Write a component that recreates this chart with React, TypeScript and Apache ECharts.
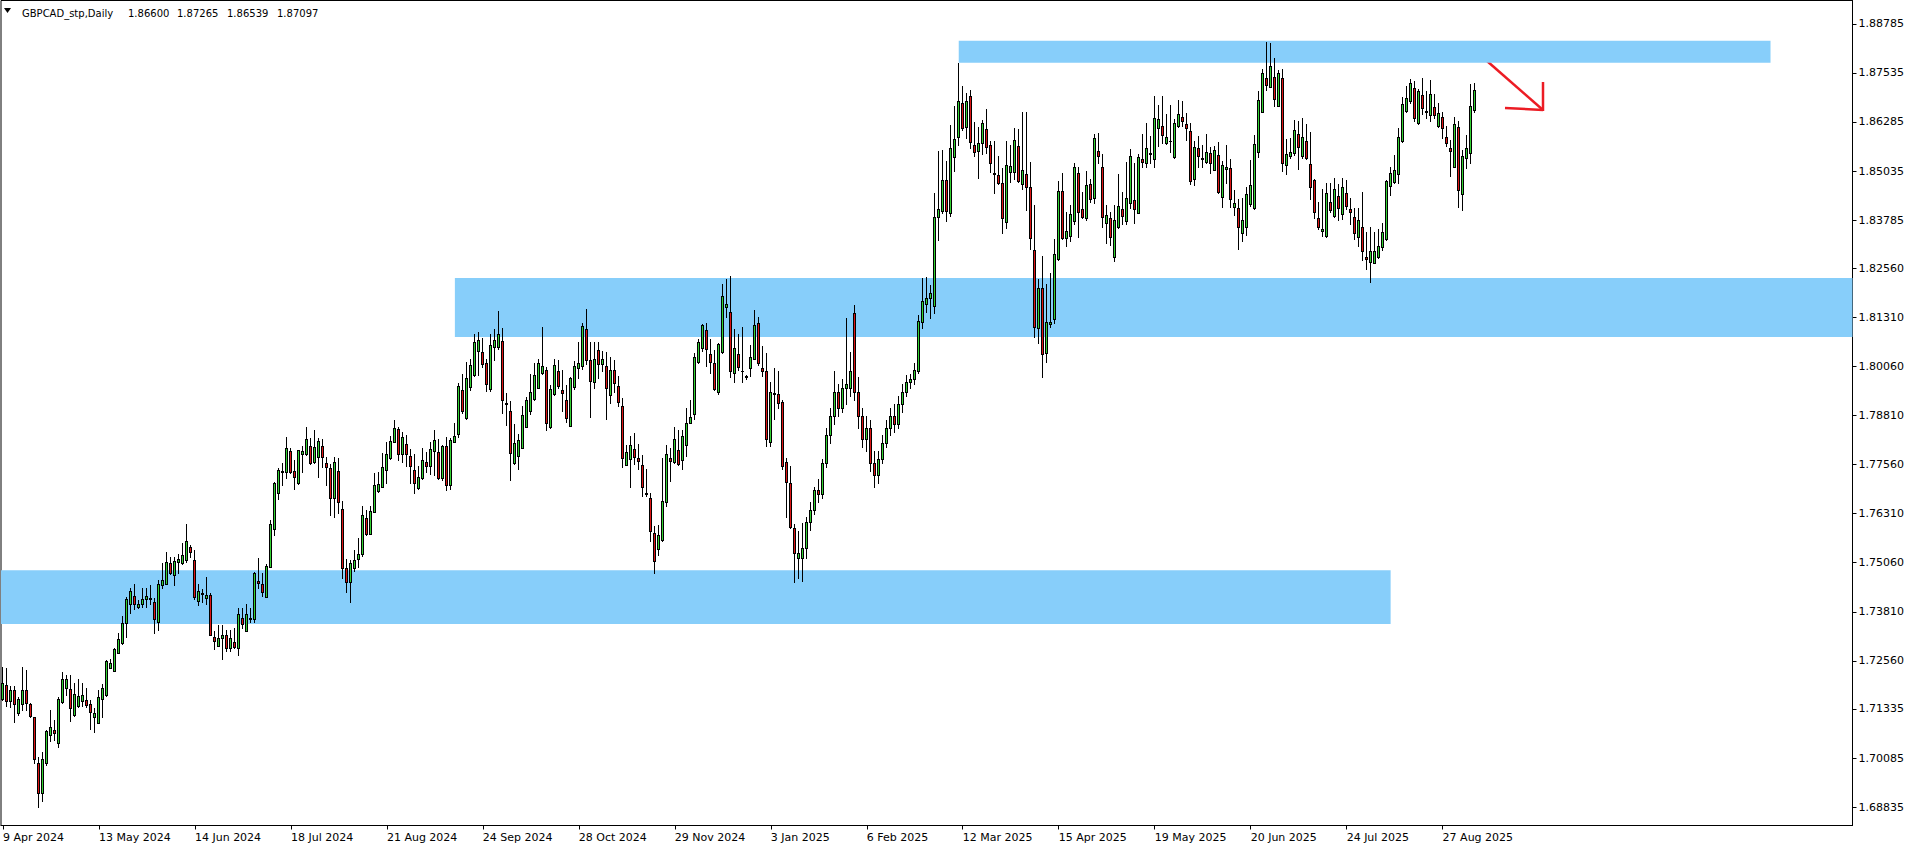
import React, { useEffect, useRef } from "react";
import * as echarts from "echarts";

// Daily GBPCAD candles, each row: [open, high, low, close]
const barsAprJun2024 = [
  [1.7160, 1.7241, 1.7156, 1.7200], [1.7195, 1.7239, 1.7142, 1.7155], [1.7155, 1.7193, 1.7139, 1.7181],
  [1.7181, 1.7192, 1.7101, 1.7145], [1.7124, 1.7165, 1.7118, 1.7158], [1.7145, 1.7241, 1.7131, 1.7182],
  [1.7181, 1.7233, 1.7131, 1.7149], [1.7146, 1.7149, 1.7114, 1.7116], [1.7112, 1.7114, 1.6997, 1.7005],
  [1.6997, 1.7010, 1.6885, 1.6919], [1.6919, 1.7023, 1.6900, 1.7005], [1.6995, 1.7080, 1.6991, 1.7077],
  [1.7066, 1.7131, 1.7053, 1.7087], [1.7081, 1.7105, 1.7054, 1.7073], [1.7046, 1.7165, 1.7037, 1.7160],
  [1.7152, 1.7227, 1.7149, 1.7209], [1.7188, 1.7220, 1.7169, 1.7209], [1.7184, 1.7220, 1.7104, 1.7137],
  [1.7118, 1.7199, 1.7116, 1.7171], [1.7142, 1.7211, 1.7139, 1.7166], [1.7155, 1.7199, 1.7141, 1.7168],
  [1.7156, 1.7188, 1.7138, 1.7144], [1.7146, 1.7156, 1.7083, 1.7125], [1.7112, 1.7135, 1.7076, 1.7122],
  [1.7098, 1.7182, 1.7097, 1.7163], [1.7160, 1.7197, 1.7112, 1.7186], [1.7169, 1.7258, 1.7167, 1.7256],
  [1.7239, 1.7260, 1.7237, 1.7250], [1.7231, 1.7288, 1.7231, 1.7285], [1.7277, 1.7326, 1.7275, 1.7312],
  [1.7301, 1.7370, 1.7299, 1.7352], [1.7352, 1.7419, 1.7318, 1.7413], [1.7402, 1.7441, 1.7377, 1.7434],
  [1.7421, 1.7452, 1.7387, 1.7402], [1.7394, 1.7411, 1.7390, 1.7402], [1.7402, 1.7441, 1.7392, 1.7413],
  [1.7413, 1.7441, 1.7394, 1.7421], [1.7415, 1.7449, 1.7402, 1.7414], [1.7405, 1.7415, 1.7328, 1.7362],
  [1.7354, 1.7462, 1.7335, 1.7451], [1.7449, 1.7506, 1.7441, 1.7461], [1.7453, 1.7532, 1.7451, 1.7509],
  [1.7504, 1.7520, 1.7477, 1.7481], [1.7475, 1.7521, 1.7449, 1.7510], [1.7507, 1.7527, 1.7479, 1.7515],
  [1.7505, 1.7557, 1.7503, 1.7526], [1.7513, 1.7605, 1.7509, 1.7560], [1.7545, 1.7551, 1.7521, 1.7534],
  [1.7514, 1.7538, 1.7413, 1.7419], [1.7409, 1.7452, 1.7398, 1.7433], [1.7426, 1.7440, 1.7405, 1.7430],
  [1.7415, 1.7470, 1.7402, 1.7423],
];

const barsJunAug2024 = [
  [1.7424, 1.7428, 1.7322, 1.7323], [1.7316, 1.7333, 1.7286, 1.7307], [1.7295, 1.7347, 1.7294, 1.7313],
  [1.7313, 1.7347, 1.7262, 1.7323], [1.7321, 1.7335, 1.7280, 1.7290], [1.7290, 1.7335, 1.7280, 1.7313],
  [1.7304, 1.7339, 1.7288, 1.7292], [1.7288, 1.7390, 1.7271, 1.7375], [1.7364, 1.7390, 1.7339, 1.7349],
  [1.7333, 1.7402, 1.7332, 1.7375], [1.7364, 1.7390, 1.7356, 1.7362], [1.7362, 1.7483, 1.7356, 1.7481],
  [1.7459, 1.7517, 1.7441, 1.7455], [1.7452, 1.7479, 1.7422, 1.7432], [1.7419, 1.7503, 1.7418, 1.7498],
  [1.7496, 1.7615, 1.7495, 1.7605], [1.7593, 1.7712, 1.7577, 1.7710], [1.7683, 1.7746, 1.7667, 1.7742],
  [1.7740, 1.7759, 1.7704, 1.7738], [1.7738, 1.7827, 1.7721, 1.7797], [1.7791, 1.7797, 1.7734, 1.7738],
  [1.7740, 1.7768, 1.7694, 1.7725], [1.7708, 1.7794, 1.7706, 1.7793], [1.7782, 1.7802, 1.7738, 1.7791],
  [1.7782, 1.7852, 1.7780, 1.7820], [1.7803, 1.7823, 1.7757, 1.7761], [1.7763, 1.7844, 1.7759, 1.7801],
  [1.7776, 1.7823, 1.7725, 1.7816], [1.7803, 1.7820, 1.7749, 1.7774], [1.7759, 1.7776, 1.7704, 1.7749],
  [1.7746, 1.7757, 1.7627, 1.7670], [1.7670, 1.7776, 1.7622, 1.7762], [1.7740, 1.7772, 1.7632, 1.7660],
  [1.7643, 1.7664, 1.7466, 1.7492], [1.7492, 1.7515, 1.7432, 1.7458], [1.7458, 1.7513, 1.7407, 1.7504],
  [1.7492, 1.7538, 1.7486, 1.7513], [1.7515, 1.7568, 1.7496, 1.7528], [1.7527, 1.7650, 1.7524, 1.7627],
  [1.7621, 1.7640, 1.7577, 1.7579], [1.7579, 1.7650, 1.7578, 1.7638], [1.7636, 1.7734, 1.7635, 1.7704],
  [1.7689, 1.7738, 1.7687, 1.7706], [1.7700, 1.7786, 1.7698, 1.7750], [1.7742, 1.7814, 1.7710, 1.7783],
  [1.7772, 1.7829, 1.7769, 1.7816], [1.7814, 1.7869, 1.7813, 1.7848], [1.7846, 1.7851, 1.7768, 1.7782],
  [1.7782, 1.7840, 1.7763, 1.7825], [1.7808, 1.7831, 1.7751, 1.7782],
];

const barsAugOct2024 = [
  [1.7778, 1.7795, 1.7710, 1.7751], [1.7742, 1.7783, 1.7683, 1.7708], [1.7695, 1.7751, 1.7693, 1.7725],
  [1.7721, 1.7797, 1.7719, 1.7768], [1.7763, 1.7789, 1.7738, 1.7751], [1.7751, 1.7814, 1.7732, 1.7795],
  [1.7791, 1.7844, 1.7729, 1.7818], [1.7787, 1.7821, 1.7719, 1.7721], [1.7721, 1.7807, 1.7717, 1.7802],
  [1.7802, 1.7827, 1.7691, 1.7704], [1.7704, 1.7823, 1.7693, 1.7818], [1.7814, 1.7861, 1.7813, 1.7829],
  [1.7834, 1.7963, 1.7827, 1.7956], [1.7946, 1.7987, 1.7888, 1.7893], [1.7874, 1.8018, 1.7872, 1.7976],
  [1.7953, 1.8026, 1.7946, 1.8010], [1.7984, 1.8088, 1.7981, 1.8067], [1.8046, 1.8094, 1.7984, 1.8073],
  [1.8042, 1.8077, 1.8005, 1.8012], [1.8015, 1.8024, 1.7944, 1.7961], [1.7948, 1.8088, 1.7944, 1.8060],
  [1.8056, 1.8100, 1.8022, 1.8073], [1.8056, 1.8147, 1.8050, 1.8088], [1.8071, 1.8103, 1.7886, 1.7920],
  [1.7913, 1.7937, 1.7857, 1.7911], [1.7892, 1.7918, 1.7717, 1.7786], [1.7761, 1.7859, 1.7757, 1.7810],
  [1.7779, 1.7834, 1.7745, 1.7818], [1.7799, 1.7905, 1.7797, 1.7882], [1.7852, 1.7929, 1.7851, 1.7920],
  [1.7893, 1.7987, 1.7885, 1.7940], [1.7922, 1.8014, 1.7920, 1.7984], [1.7952, 1.8026, 1.7950, 1.8015],
  [1.7990, 1.8107, 1.7987, 1.8007], [1.7997, 1.8005, 1.7844, 1.7861], [1.7852, 1.7959, 1.7848, 1.7948],
  [1.7935, 1.8026, 1.7933, 1.8010], [1.7994, 1.8022, 1.7952, 1.7956], [1.7946, 1.7997, 1.7893, 1.7939],
  [1.7920, 1.7959, 1.7865, 1.7875], [1.7855, 1.7978, 1.7854, 1.7976], [1.7954, 1.8020, 1.7948, 1.8007],
  [1.8001, 1.8069, 1.7977, 1.8014], [1.8008, 1.8116, 1.8000, 1.8109], [1.8100, 1.8152, 1.8012, 1.8021],
  [1.8022, 1.8069, 1.7878, 1.7970], [1.7967, 1.8067, 1.7952, 1.8025], [1.8048, 1.8067, 1.7977, 1.8011],
  [1.8012, 1.8045, 1.7993, 1.8026], [1.8008, 1.8043, 1.7871, 1.7950],
];

const barsNovJan2025 = [
  [1.7933, 1.8031, 1.7912, 1.7997], [1.7997, 1.8022, 1.7940, 1.7963], [1.7956, 1.7981, 1.7906, 1.7916],
  [1.7905, 1.7926, 1.7749, 1.7773], [1.7756, 1.7806, 1.7755, 1.7787], [1.7769, 1.7829, 1.7700, 1.7806],
  [1.7796, 1.7837, 1.7757, 1.7774], [1.7772, 1.7808, 1.7745, 1.7766], [1.7755, 1.7780, 1.7677, 1.7698],
  [1.7684, 1.7745, 1.7677, 1.7681], [1.7670, 1.7684, 1.7562, 1.7588], [1.7581, 1.7599, 1.7479, 1.7511],
  [1.7540, 1.7602, 1.7526, 1.7576], [1.7564, 1.7773, 1.7561, 1.7663], [1.7661, 1.7806, 1.7651, 1.7783],
  [1.7773, 1.7797, 1.7715, 1.7766], [1.7762, 1.7851, 1.7759, 1.7821], [1.7793, 1.7844, 1.7755, 1.7757],
  [1.7768, 1.7844, 1.7745, 1.7829], [1.7807, 1.7899, 1.7779, 1.7863], [1.7863, 1.7920, 1.7861, 1.7876],
  [1.7884, 1.8039, 1.7872, 1.8029], [1.8016, 1.8076, 1.8014, 1.8067], [1.8054, 1.8113, 1.8045, 1.8111],
  [1.8099, 1.8117, 1.8007, 1.8049], [1.8037, 1.8076, 1.7988, 1.8016], [1.8014, 1.8048, 1.7946, 1.7948],
  [1.7942, 1.8065, 1.7936, 1.8062], [1.8042, 1.8216, 1.8041, 1.8185], [1.8158, 1.8229, 1.8133, 1.8164],
  [1.8144, 1.8235, 1.7978, 1.7995], [1.7988, 1.8101, 1.7965, 1.8054], [1.8037, 1.8088, 1.7997, 1.8004],
  [1.7995, 1.8107, 1.7967, 1.7993], [1.7981, 1.7984, 1.7975, 1.7978], [1.8001, 1.8060, 1.7982, 1.8029],
  [1.8026, 1.8150, 1.8025, 1.8111], [1.8116, 1.8133, 1.8010, 1.8014], [1.8001, 1.8059, 1.7982, 1.7993],
  [1.7995, 1.8039, 1.7804, 1.7820], [1.7813, 1.7967, 1.7804, 1.7940], [1.7937, 1.8003, 1.7871, 1.7935],
  [1.7936, 1.7993, 1.7899, 1.7912], [1.7916, 1.7920, 1.7744, 1.7753], [1.7762, 1.7773, 1.7623, 1.7711],
  [1.7708, 1.7753, 1.7594, 1.7596], [1.7594, 1.7605, 1.7456, 1.7530], [1.7517, 1.7587, 1.7466, 1.7530],
  [1.7519, 1.7606, 1.7459, 1.7543], [1.7543, 1.7622, 1.7517, 1.7609],
];

const barsJanMar2025 = [
  [1.7609, 1.7660, 1.7590, 1.7640], [1.7640, 1.7700, 1.7630, 1.7690], [1.7690, 1.7720, 1.7660, 1.7680],
  [1.7680, 1.7770, 1.7670, 1.7760], [1.7760, 1.7850, 1.7750, 1.7830], [1.7830, 1.7900, 1.7810, 1.7880],
  [1.7880, 1.7993, 1.7860, 1.7940], [1.7940, 1.7960, 1.7880, 1.7900], [1.7900, 1.7975, 1.7890, 1.7950],
  [1.7950, 1.8128, 1.7910, 1.7960], [1.7950, 1.8042, 1.7930, 1.7993], [1.8141, 1.8162, 1.7920, 1.7940],
  [1.7940, 1.7980, 1.7850, 1.7880], [1.7880, 1.7900, 1.7800, 1.7820], [1.7820, 1.7880, 1.7790, 1.7850],
  [1.7850, 1.7870, 1.7740, 1.7760], [1.7760, 1.7790, 1.7700, 1.7730], [1.7730, 1.7790, 1.7710, 1.7770],
  [1.7770, 1.7830, 1.7760, 1.7810], [1.7810, 1.7870, 1.7800, 1.7850], [1.7850, 1.7900, 1.7830, 1.7880],
  [1.7880, 1.7910, 1.7840, 1.7860], [1.7860, 1.7930, 1.7850, 1.7910], [1.7910, 1.7960, 1.7890, 1.7940],
  [1.7940, 1.7985, 1.7930, 1.7965], [1.7965, 1.7987, 1.7950, 1.7975], [1.7975, 1.8014, 1.7960, 1.7997],
  [1.7993, 1.8137, 1.7988, 1.8122], [1.8120, 1.8232, 1.8105, 1.8172], [1.8166, 1.8234, 1.8145, 1.8179],
  [1.8181, 1.8213, 1.8128, 1.8194], [1.8161, 1.8448, 1.8141, 1.8386], [1.8386, 1.8554, 1.8329, 1.8408],
  [1.8402, 1.8557, 1.8397, 1.8481], [1.8481, 1.8530, 1.8377, 1.8402], [1.8397, 1.8621, 1.8390, 1.8561],
  [1.8540, 1.8669, 1.8504, 1.8585], [1.8591, 1.8779, 1.8571, 1.8682], [1.8678, 1.8720, 1.8608, 1.8614],
  [1.8615, 1.8703, 1.8588, 1.8682], [1.8695, 1.8710, 1.8563, 1.8578], [1.8570, 1.8629, 1.8543, 1.8553],
  [1.8555, 1.8615, 1.8485, 1.8576], [1.8574, 1.8633, 1.8547, 1.8625], [1.8610, 1.8661, 1.8549, 1.8565],
  [1.8570, 1.8580, 1.8502, 1.8525], [1.8498, 1.8580, 1.8447, 1.8495], [1.8493, 1.8542, 1.8470, 1.8474],
  [1.8472, 1.8510, 1.8345, 1.8383], [1.8374, 1.8580, 1.8359, 1.8519],
];

const barsMarMay2025 = [
  [1.8502, 1.8570, 1.8476, 1.8516], [1.8500, 1.8612, 1.8483, 1.8583], [1.8567, 1.8610, 1.8476, 1.8479],
  [1.8470, 1.8653, 1.8458, 1.8506], [1.8495, 1.8653, 1.8404, 1.8462], [1.8462, 1.8526, 1.8304, 1.8334],
  [1.8302, 1.8417, 1.8082, 1.8107], [1.8105, 1.8228, 1.8065, 1.8205], [1.8205, 1.8287, 1.7980, 1.8037],
  [1.8039, 1.8216, 1.8018, 1.8118], [1.8115, 1.8243, 1.8107, 1.8118], [1.8127, 1.8330, 1.8117, 1.8292],
  [1.8279, 1.8478, 1.8277, 1.8453], [1.8453, 1.8498, 1.8330, 1.8334], [1.8332, 1.8400, 1.8313, 1.8351],
  [1.8339, 1.8417, 1.8326, 1.8393], [1.8375, 1.8525, 1.8369, 1.8513], [1.8498, 1.8513, 1.8336, 1.8400],
  [1.8406, 1.8449, 1.8383, 1.8387], [1.8385, 1.8504, 1.8380, 1.8468], [1.8470, 1.8483, 1.8425, 1.8431],
  [1.8434, 1.8597, 1.8423, 1.8587], [1.8555, 1.8601, 1.8523, 1.8543], [1.8513, 1.8547, 1.8362, 1.8387],
  [1.8372, 1.8417, 1.8321, 1.8392], [1.8383, 1.8400, 1.8315, 1.8336], [1.8285, 1.8417, 1.8274, 1.8379],
  [1.8362, 1.8496, 1.8359, 1.8414], [1.8406, 1.8451, 1.8369, 1.8390], [1.8377, 1.8527, 1.8369, 1.8434],
  [1.8423, 1.8560, 1.8409, 1.8542], [1.8430, 1.8523, 1.8372, 1.8407], [1.8397, 1.8547, 1.8396, 1.8538],
  [1.8534, 1.8598, 1.8515, 1.8527], [1.8523, 1.8627, 1.8513, 1.8561], [1.8549, 1.8593, 1.8525, 1.8548],
  [1.8533, 1.8695, 1.8513, 1.8638], [1.8612, 1.8672, 1.8568, 1.8635], [1.8617, 1.8695, 1.8574, 1.8595],
  [1.8574, 1.8649, 1.8572, 1.8589], [1.8581, 1.8672, 1.8553, 1.8579], [1.8538, 1.8635, 1.8537, 1.8625],
  [1.8617, 1.8684, 1.8615, 1.8648], [1.8642, 1.8682, 1.8619, 1.8632], [1.8622, 1.8651, 1.8583, 1.8612],
  [1.8605, 1.8625, 1.8470, 1.8479], [1.8483, 1.8580, 1.8468, 1.8564], [1.8561, 1.8593, 1.8515, 1.8543],
  [1.8536, 1.8570, 1.8513, 1.8533], [1.8526, 1.8599, 1.8524, 1.8551],
];

const barsMayJul2025 = [
  [1.8549, 1.8564, 1.8498, 1.8523], [1.8506, 1.8566, 1.8505, 1.8557], [1.8544, 1.8577, 1.8447, 1.8451],
  [1.8438, 1.8529, 1.8413, 1.8519], [1.8508, 1.8570, 1.8472, 1.8513], [1.8510, 1.8534, 1.8413, 1.8431],
  [1.8411, 1.8455, 1.8392, 1.8421], [1.8409, 1.8432, 1.8305, 1.8362], [1.8345, 1.8436, 1.8326, 1.8379],
  [1.8362, 1.8464, 1.8341, 1.8445], [1.8419, 1.8532, 1.8415, 1.8468], [1.8409, 1.8595, 1.8406, 1.8572],
  [1.8551, 1.8707, 1.8540, 1.8684], [1.8655, 1.8763, 1.8654, 1.8752], [1.8740, 1.8831, 1.8710, 1.8723],
  [1.8718, 1.8829, 1.8717, 1.8771], [1.8742, 1.8792, 1.8669, 1.8686], [1.8670, 1.8761, 1.8668, 1.8752],
  [1.8740, 1.8763, 1.8504, 1.8523], [1.8519, 1.8585, 1.8495, 1.8546], [1.8542, 1.8587, 1.8536, 1.8551],
  [1.8549, 1.8634, 1.8544, 1.8608], [1.8597, 1.8631, 1.8508, 1.8564], [1.8543, 1.8638, 1.8536, 1.8589],
  [1.8580, 1.8623, 1.8534, 1.8536], [1.8521, 1.8602, 1.8432, 1.8462], [1.8481, 1.8483, 1.8383, 1.8398],
  [1.8383, 1.8424, 1.8355, 1.8362], [1.8351, 1.8459, 1.8339, 1.8357], [1.8338, 1.8472, 1.8336, 1.8447],
  [1.8425, 1.8472, 1.8400, 1.8403], [1.8389, 1.8485, 1.8387, 1.8457], [1.8440, 1.8471, 1.8379, 1.8409],
  [1.8393, 1.8485, 1.8381, 1.8462], [1.8447, 1.8481, 1.8406, 1.8415], [1.8406, 1.8434, 1.8368, 1.8400],
  [1.8387, 1.8409, 1.8330, 1.8345], [1.8336, 1.8409, 1.8313, 1.8379], [1.8360, 1.8449, 1.8277, 1.8301],
  [1.8285, 1.8349, 1.8253, 1.8280], [1.8273, 1.8362, 1.8222, 1.8301], [1.8270, 1.8349, 1.8268, 1.8301],
  [1.8285, 1.8355, 1.8281, 1.8312], [1.8309, 1.8370, 1.8303, 1.8347], [1.8330, 1.8481, 1.8328, 1.8478],
  [1.8466, 1.8515, 1.8443, 1.8498], [1.8475, 1.8544, 1.8472, 1.8506], [1.8495, 1.8612, 1.8472, 1.8589],
  [1.8581, 1.8693, 1.8578, 1.8674], [1.8657, 1.8720, 1.8655, 1.8689],
];

const barsAugSep2025 = [
  [1.8683, 1.8737, 1.8678, 1.8727], [1.8714, 1.8733, 1.8632, 1.8638], [1.8625, 1.8712, 1.8623, 1.8707],
  [1.8697, 1.8740, 1.8649, 1.8665], [1.8656, 1.8707, 1.8638, 1.8654], [1.8645, 1.8735, 1.8632, 1.8699],
  [1.8666, 1.8700, 1.8638, 1.8645], [1.8617, 1.8676, 1.8615, 1.8651], [1.8640, 1.8655, 1.8588, 1.8612],
  [1.8589, 1.8617, 1.8566, 1.8574], [1.8561, 1.8583, 1.8492, 1.8555], [1.8515, 1.8640, 1.8513, 1.8623],
  [1.8615, 1.8631, 1.8413, 1.8454], [1.8444, 1.8557, 1.8403, 1.8542], [1.8536, 1.8595, 1.8512, 1.8561],
  [1.8550, 1.8725, 1.8523, 1.8670], [1.86600, 1.87265, 1.86539, 1.87097],
];

const header = ["GBPCAD_stp,Daily", "1.86600", "1.87265", "1.86539", "1.87097"];
const lastPrice = 1.87097;
const priceTicks = [
  1.88785, 1.87535, 1.86285, 1.85035, 1.83785, 1.8256, 1.8131, 1.8006, 1.7881,
  1.7756, 1.7631, 1.7506, 1.7381, 1.7256, 1.71335, 1.70085, 1.68835,
];
// Horizontal zones: [first bar, last bar, upper price, lower price]
const zoneTop = [239, 441.6, 1.8835, 1.8779];
const zoneMiddle = [113, Infinity, 1.8231, 1.8081];
const zoneBottom = [-Infinity, 347, 1.7487, 1.735];

const MONTHS = ["Jan", "Feb", "Mar", "Apr", "May", "Jun", "Jul", "Aug", "Sep", "Oct", "Nov", "Dec"];
const firstDay = [2024, 3, 9];
const missingDays = ["2024-12-25"];
const totalSlots = 463;
const labelEvery = 24;

const bars = [
  ...barsAprJun2024, ...barsJunAug2024, ...barsAugOct2024, ...barsNovJan2025,
  ...barsJanMar2025, ...barsMarMay2025, ...barsMayJul2025, ...barsAugSep2025,
];

function tradingDays(n: number): string[] {
  const out: string[] = [];
  const d = new Date(Date.UTC(firstDay[0], firstDay[1], firstDay[2]));
  while (out.length < n) {
    const wd = d.getUTCDay();
    const iso = d.toISOString().slice(0, 10);
    if (wd !== 0 && wd !== 6 && !missingDays.includes(iso)) {
      out.push(`${d.getUTCDate()} ${MONTHS[d.getUTCMonth()]} ${d.getUTCFullYear()}`);
    }
    d.setUTCDate(d.getUTCDate() + 1);
  }
  return out;
}

const FONT = "DejaVu Sans";
const BULL = "#32d232";
const BEAR = "#dc1414";

export default function App() {
  const ref = useRef<HTMLDivElement>(null);
  useEffect(() => {
    if (!ref.current) return;
    const chart = echarts.init(ref.current, undefined, { renderer: "svg" });
    const categories = tradingDays(totalSlots);
    const n = bars.length;
    const showIdx = (i: number) => i % labelEvery === 0 && i < n;
    const zone = (z: number[]) => [
      { xAxis: z[0], yAxis: z[2] },
      { xAxis: z[1], yAxis: z[3] },
    ];
    const headerX = [22, 128, 177, 227, 277];
    const renderCandle = (_params: any, api: any) => {
      const i = api.value(0);
      const o = api.value(1);
      const h = api.value(2);
      const l = api.value(3);
      const c = api.value(4);
      const pO = api.coord([i, o]);
      const col = Math.floor(pO[0]);
      const yO = Math.round(pO[1]);
      const yC = Math.round(api.coord([i, c])[1]);
      const yH = Math.round(api.coord([i, h])[1]);
      const yL = Math.round(api.coord([i, l])[1]);
      const top = Math.min(yO, yC);
      const bot = Math.max(yO, yC);
      const children: any[] = [
        { type: "rect", shape: { x: col, y: yH, width: 1, height: yL - yH + 1 }, style: { fill: "#000" } },
        { type: "rect", shape: { x: col - 1, y: top, width: 3, height: bot - top + 1 }, style: { fill: "#000" } },
      ];
      if (bot - top >= 2) {
        children.push({
          type: "rect",
          shape: { x: col, y: top + 1, width: 1, height: bot - top - 1 },
          style: { fill: c >= o ? BULL : BEAR },
        });
      }
      return { type: "group", children };
    };
    chart.setOption({
      animation: false,
      backgroundColor: "#ffffff",
      grid: {
        left: 0.5, right: 63.5, top: 0.5, bottom: 24.5,
        show: true, borderColor: "#000", borderWidth: 1, backgroundColor: "transparent",
      },
      xAxis: {
        type: "category",
        data: categories,
        boundaryGap: true,
        axisLine: { show: true, lineStyle: { color: "#000", width: 1 } },
        axisTick: { show: true, alignWithLabel: true, length: 4, interval: (i: number) => showIdx(i), lineStyle: { color: "#000" } },
        axisLabel: {
          interval: (i: number) => showIdx(i),
          align: "left", margin: 6, color: "#000", fontFamily: FONT, fontSize: 11,
        },
        splitLine: { show: false },
      },
      yAxis: {
        type: "value",
        position: "right",
        min: 1.68367,
        max: 1.89378,
        axisLine: { show: true, lineStyle: { color: "#000", width: 1 } },
        axisTick: { show: true, length: 4, customValues: priceTicks, lineStyle: { color: "#000" } },
        axisLabel: {
          customValues: priceTicks,
          formatter: (v: number) => v.toFixed(5),
          margin: 6, color: "#000", fontFamily: FONT, fontSize: 11,
        },
        splitLine: { show: false },
      },
      series: [
        {
          type: "custom",
          name: "GBPCAD",
          data: bars.map((b, i) => [i, ...b]),
          encode: { x: 0, y: [1, 2, 3, 4] },
          renderItem: renderCandle,
          clip: true,
          silent: true,
          z: 3,
          markArea: {
            silent: true,
            z: 1,
            itemStyle: { color: "#87cefa", opacity: 1 },
            data: [zone(zoneTop), zone(zoneMiddle), zone(zoneBottom)],
          },
          markLine: {
            silent: true,
            symbol: ["none", "none"],
            lineStyle: { opacity: 0, width: 0 },
            label: {
              show: true, position: "end", distance: 2,
              formatter: () => lastPrice.toFixed(5),
              backgroundColor: "#000", color: "#fff", padding: [2, 4, 1, 5],
              fontFamily: FONT, fontSize: 11,
            },
            data: [{ yAxis: lastPrice }],
          },
        },
      ],
      graphic: [
        { type: "polygon", shape: { points: [[4, 8], [11, 8], [7.5, 13]] }, style: { fill: "#000" } },
        ...header.map((t, i) => ({
          type: "text", left: headerX[i], top: 8,
          style: { text: t, fill: "#000", font: `10px '${FONT}'` },
        })),
        { type: "polyline", shape: { points: [[1487, 61], [1543, 110]] }, style: { stroke: "#ec1c24", lineWidth: 2.5, fill: null } },
        { type: "polyline", shape: { points: [[1543, 82], [1543, 111]] }, style: { stroke: "#ec1c24", lineWidth: 2.5, fill: null } },
        { type: "polyline", shape: { points: [[1505, 108], [1543, 110]] }, style: { stroke: "#ec1c24", lineWidth: 2.5, fill: null } },
      ],
    });
    return () => chart.dispose();
  }, []);
  return (
    <div
      ref={ref}
      style={{ position: "fixed", left: 0, top: 0, width: 1916, height: 850, background: "#fff" }}
    />
  );
}
